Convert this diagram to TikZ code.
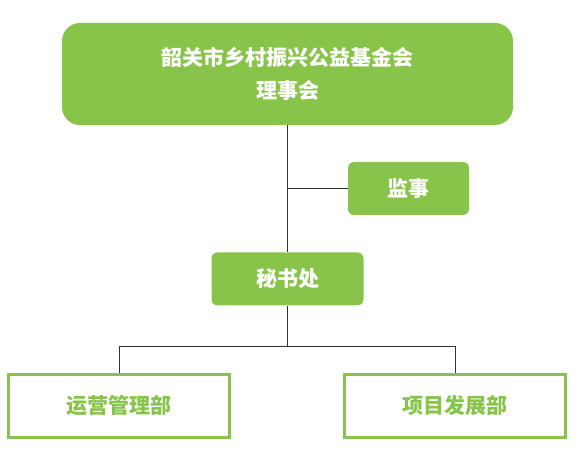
\documentclass[tikz,border=0pt]{standalone}
\usepackage{fontspec}
\newfontfamily\cjk{Noto Sans CJK SC}
\usepackage{tikz}
\usetikzlibrary{positioning}
\definecolor{leafgreen}{RGB}{137,196,74}
\definecolor{linkgray}{RGB}{51,51,51}

\begin{document}
\begin{tikzpicture}[
    x=1pt, y=1pt,
    node distance=127pt and 40pt,
    headbox/.style={fill=leafgreen, rounded corners=18pt, minimum width=451pt, minimum height=102pt, align=center, text=white, font=\cjk\bfseries\fontsize{21}{33}\selectfont},
    greenbox/.style={fill=leafgreen, rounded corners=6pt, minimum height=53pt, align=center, text=white, font=\cjk\bfseries\fontsize{21}{24}\selectfont},
    deptbox/.style={draw=leafgreen, line width=3pt, fill=white, minimum width=221pt, minimum height=63pt, align=center, text=leafgreen, font=\cjk\bfseries\fontsize{21}{24}\selectfont},
    link/.style={draw=linkgray, line width=1pt}
]
\useasboundingbox (0,0) rectangle (577,460);

\node[headbox] (board) at (287.5,386) {韶关市乡村振兴公益基金会\\理事会};
\node[greenbox, minimum width=152pt, below=127pt of board] (office) {秘书处};
\node[greenbox, minimum width=121pt] (supervisor) at (408.5,271.5) {监事};
\node[deptbox] (ops) at (119,54) {运营管理部};
\node[deptbox] (project) at (455,54) {项目发展部};

\coordinate (fork) at (office.south |- 0,113);

\draw[link] (board.south) -- (office.north);
\draw[link] (supervisor.west) -- (supervisor.west -| board.south);
\draw[link] (office.south) -- (fork);
\draw[link] (fork) -| (ops.north);
\draw[link] (fork) -| (project.north);
\end{tikzpicture}
\end{document}
